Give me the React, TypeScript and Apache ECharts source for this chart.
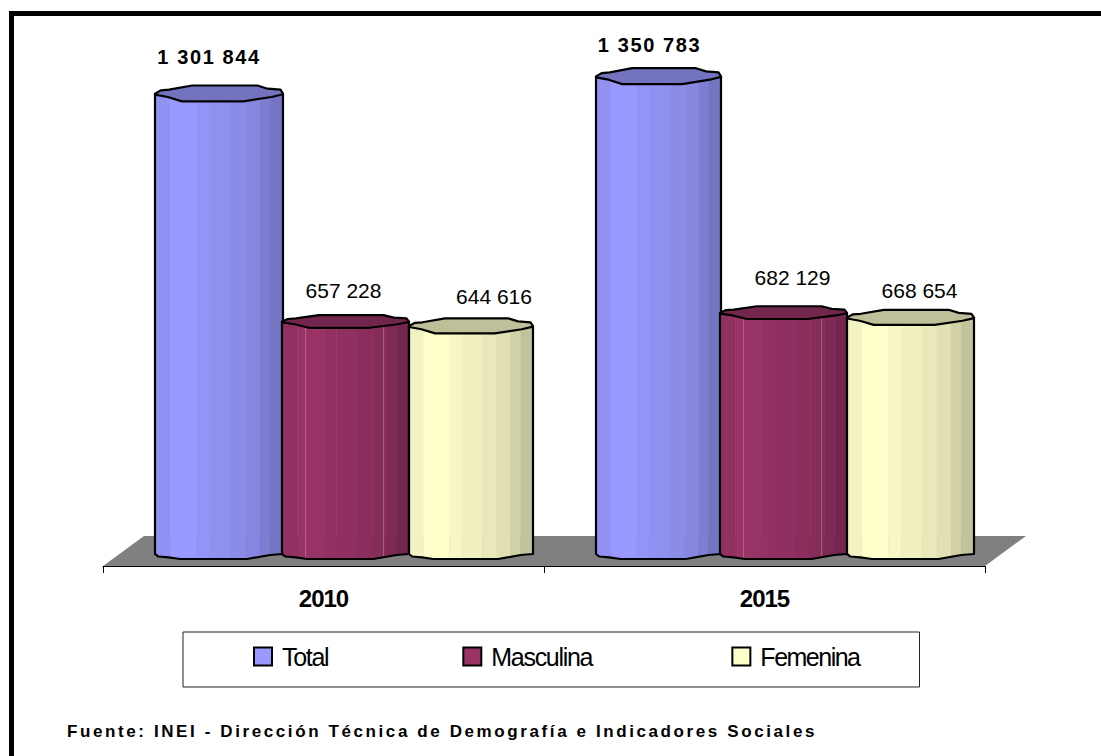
import React, { useEffect, useRef } from "react";
import * as echarts from "echarts";

const categories = ["2010", "2015"];
const totalValues = [1301844, 1350783];
const masculinaValues = [657228, 682129];
const femeninaValues = [644616, 668654];
const seriesNames = ["Total", "Masculina", "Femenina"];
const footerText = "Fuente: INEI - Dirección Técnica de Demografía e Indicadores Sociales";

const baseColors = ["#9999FF", "#993366", "#FFFFCC"];
const topFactor = 0.75;
const bandEdges = [0, 0.12, 0.325, 0.43, 0.59, 0.71, 0.82, 0.9, 1];
const bandFactors = [0.95, 1, 0.97, 0.94, 0.91, 0.88, 0.82, 0.76];
const topUpperU = [0, 0.045, 0.11, 0.29, 0.8, 0.88, 0.98, 1];
const topUpperY = [0, -3.3, -4, -8.2, -8.2, -5, -4, 0];
const topLowerU = [0, 0.1, 0.21, 0.69, 0.91, 1];
const topLowerY = [1, 3.3, 7.7, 7.7, 3.3, 0.5];
const botU = [0, 0.026, 0.105, 0.196, 0.72, 0.9, 1];
const botY = [0, 2.5, 3.3, 5, 5, 1, 0];
const lightLinesU = [[], [0.186, 0.8], []];

const shade = (hex: string, f: number) => {
  const n = parseInt(hex.slice(1), 16);
  const c = [(n >> 16) & 255, (n >> 8) & 255, n & 255].map((v) => Math.round(v * f));
  return `rgb(${c[0]},${c[1]},${c[2]})`;
};
const curve = (u: number, us: number[], ys: number[]) => {
  for (let i = 1; i < us.length; i++) {
    if (u <= us[i]) return ys[i - 1] + ((u - us[i - 1]) / (us[i] - us[i - 1])) * (ys[i] - ys[i - 1]);
  }
  return ys[ys.length - 1];
};

const DEPTH_X = 20;
const DEPTH_Y = -12;
const BAR_W = 126;
const perspectives = [1, 0.8, 0.95];
const leftNudge = [[0.5, 1.5, 2.5], [0.5, -1.5, -0.5]];
const widthNudge = [[2, 1, -2], [-1, 1, 1]];
const labelDy = [[-37, -31], [-31, -35], [-30, -27]];
const labelDx = [[-10, -9], [-2, 9], [23, 9]];

function cylinder(seriesIndex: number, values: number[]) {
  return (params: any, api: any) => {
    const i = params.dataIndex;
    const [cx, y0] = api.coord([i, 0]);
    const [, y1] = api.coord([i, api.value(1)]);
    const colW = BAR_W + widthNudge[i][seriesIndex];
    const left = cx + DEPTH_X + (seriesIndex - 1) * BAR_W - BAR_W / 2 + leftNudge[i][seriesIndex];
    const bottom = y0 + DEPTH_Y;
    const top = y1 + DEPTH_Y;
    const base = baseColors[seriesIndex];
    const children: any[] = [];
    const p = perspectives[seriesIndex];
    bandFactors.forEach((f, k) => {
      const a = bandEdges[k];
      const b = bandEdges[k + 1];
      const us = [a, ...botU.filter((u) => u > a && u < b), b];
      const ut = [b, ...topLowerU.filter((u) => u > a && u < b).reverse(), a];
      const color = shade(base, f);
      children.push({
        type: "polygon",
        shape: {
          points: [
            ...us.map((u) => [left + u * colW, bottom + curve(u, botU, botY)]),
            ...ut.map((u) => [left + u * colW, top + curve(u, topLowerU, topLowerY) * p]),
          ],
        },
        style: { fill: color, stroke: color, lineWidth: 0.6 },
      });
    });
    lightLinesU[seriesIndex].forEach((u) => {
      children.push({
        type: "line",
        shape: {
          x1: left + u * colW,
          y1: top + curve(u, topLowerU, topLowerY) * p,
          x2: left + u * colW,
          y2: bottom + curve(u, botU, botY),
        },
        style: { stroke: "rgba(255,255,255,0.25)", lineWidth: 1 },
      });
    });
    children.push({
      type: "polygon",
      shape: {
        points: [
          ...topUpperU.map((u, k) => [left + u * colW, top + topUpperY[k] * p]),
          ...topLowerU.map((u, k) => [left + u * colW, top + topLowerY[k] * p]).reverse(),
        ],
      },
      style: { fill: shade(base, topFactor), stroke: "#000", lineWidth: 2.2, lineJoin: "round" },
    });
    children.push({
      type: "polyline",
      shape: {
        points: [
          [left, top],
          ...botU.map((u, k) => [left + u * colW, bottom + botY[k]]),
          [left + colW, top],
        ],
      },
      style: { fill: "none", stroke: "#000", lineWidth: 2.2, lineJoin: "round" },
    });
    children.push({
      type: "text",
      x: left + colW / 2 + labelDx[seriesIndex][i],
      y: top + labelDy[seriesIndex][i],
      style: {
        text: String(values[i]).replace(/\B(?=(\d{3})+$)/g, " "),
        fill: "#000",
        font: `${seriesIndex === 0 ? "bold 20px" : "21px"} "Liberation Sans"`,
        align: "center",
        verticalAlign: "middle",
      },
    });
    return { type: "group", children };
  };
}

function floor(params: any) {
  if (params.dataIndex !== 0) return { type: "group", children: [] };
  const cs = params.coordSys;
  const l = cs.x;
  const r = cs.x + cs.width;
  const b = cs.y + cs.height;
  return {
    type: "polygon",
    shape: { points: [[l, b], [r, b], [r + 41, b - 30], [l + 41, b - 30]] },
    style: { fill: "#808080" },
  };
}

export default function App() {
  const ref = useRef<HTMLDivElement>(null);
  useEffect(() => {
    document.body.style.margin = "0";
    const chart = echarts.init(ref.current!, undefined, { renderer: "svg" });
    const mk = (k: number, values: number[]) => ({
      type: "custom",
      name: seriesNames[k],
      coordinateSystem: "cartesian2d",
      clip: false,
      z: 3,
      renderItem: cylinder(k, values),
      itemStyle: { color: baseColors[k], borderColor: "#000", borderWidth: 2 },
      data: values.map((v, i) => [i, v]),
      encode: { x: 0, y: 1 },
    });
    chart.setOption({
      animation: false,
      backgroundColor: "#fff",
      grid: { left: 103, width: 882, top: 71, height: 495 },
      xAxis: {
        type: "category",
        data: categories,
        axisLine: { lineStyle: { color: "#000", width: 1 } },
        axisTick: { show: true, length: 7, lineStyle: { color: "#000" } },
        axisLabel: {
          fontFamily: "Liberation Sans",
          fontWeight: "bold",
          fontSize: 24,
          color: "#000",
          margin: 20,
        },
        z: 4,
      },
      yAxis: { type: "value", min: 0, max: 1400000, show: false },
      legend: {
        left: 183,
        top: 632,
        padding: [12, 48, 18, 70],
        data: seriesNames,
        itemGap: 127.5,
        itemWidth: 18,
        itemHeight: 18,
        icon: "rect",
        backgroundColor: "#fff",
        borderColor: "#222",
        borderWidth: 1,
        selectedMode: false,
        textStyle: { fontFamily: "Liberation Sans", fontSize: 25, color: "#000", padding: [0, 0, 0, 5] },
      },
      graphic: [
        { type: "rect", shape: { x: 9, y: 11, width: 1092, height: 5 }, style: { fill: "#000" } },
        { type: "rect", shape: { x: 9, y: 11, width: 5, height: 745 }, style: { fill: "#000" } },
        {
          type: "text",
          x: 67,
          y: 731,
          style: { text: footerText, fill: "#000", font: 'bold 17px "Liberation Sans"', verticalAlign: "middle" },
        },
      ],
      series: [
        {
          type: "custom",
          coordinateSystem: "cartesian2d",
          clip: false,
          z: 1,
          renderItem: floor,
          data: totalValues.map((v, i) => [i, v]),
          silent: true,
        },
        mk(0, totalValues),
        mk(1, masculinaValues),
        mk(2, femeninaValues),
      ],
    });
    ref.current!.querySelectorAll("text").forEach((t) => {
      const s = t.textContent || "";
      if (s === footerText) t.style.letterSpacing = "2.6px";
      else if (s.startsWith("1 3")) t.style.letterSpacing = "1.6px";
      else if (categories.includes(s)) t.style.letterSpacing = "-1px";
      else if (s === "Femenina") t.style.letterSpacing = "-1.5px";
      else if (seriesNames.includes(s)) t.style.letterSpacing = "-1.3px";
    });
    return () => chart.dispose();
  }, []);
  return <div ref={ref} style={{ position: "absolute", left: 0, top: 0, width: 1101, height: 756 }} />;
}
